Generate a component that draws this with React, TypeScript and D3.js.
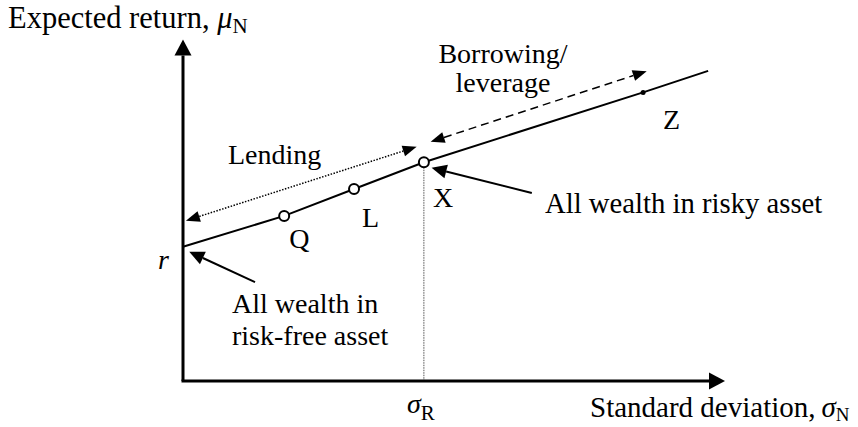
import React from "react";
import * as d3 from "d3";

// ---- data (chart units: sigma = standard deviation, mu = expected return) ----
const pointNames = ["Q", "L", "X", "Z"];
const pointSigma = [0.42, 0.71, 1.0, 1.91];
const pointMu = [1.23, 1.43, 1.63, 2.15];
const riskFreeRate = 1.0; // r
const lineEnd = [2.18, 2.31]; // sigma, mu where the CML line stops
const sigmaR = 1.0;
const lendingSpan = [[0.012, 1.194], [0.97, 1.745]];
const borrowingSpan = [[1.028, 1.782], [1.925, 2.308]];
const riskyNote = [[1.448, 1.4], [1.032, 1.588]];
const riskFreeNote = [[0.299, 0.737], [0.026, 0.963]];
const xDomain = [0, 2.25];
const yDomain = [0, 2.544];

const W = 858;
const H = 427;
const FONT = "Liberation Serif, Tinos, DejaVu Serif, serif";
const FS = 28;
const SUB = 20;

function arrowHead(x1: number, y1: number, x2: number, y2: number, len: number, wid: number) {
  const dx = x2 - x1;
  const dy = y2 - y1;
  const d = Math.hypot(dx, dy);
  const ux = dx / d;
  const uy = dy / d;
  const bx = x2 - ux * len;
  const by = y2 - uy * len;
  const px = -uy * (wid / 2);
  const py = ux * (wid / 2);
  return {
    base: [bx, by],
    points: `${x2},${y2} ${bx + px},${by + py} ${bx - px},${by - py}`,
  };
}

export default function App() {
  const x = d3.scaleLinear().domain(xDomain).range([183, 725]);
  const y = d3.scaleLinear().domain(yDomain).range([381, 39.5]);

  const linePts: [number, number][] = [
    [0, riskFreeRate],
    ...pointSigma.map((s, i) => [s, pointMu[i]] as [number, number]),
    [lineEnd[0], lineEnd[1]],
  ];
  const lineGen = d3
    .line<[number, number]>()
    .x((d) => x(d[0]))
    .y((d) => y(d[1]));

  const x0 = x(0);
  const y0 = y(0);
  const xTip = x(xDomain[1]);
  const yTip = y(yDomain[1]);
  const yHead = arrowHead(x0, y0, x0, yTip, 16, 17);
  const xHead = arrowHead(x0, y0, xTip, y0, 16, 17);

  const dblArrow = (span: number[][], dash: string, key: string) => {
    const ax = x(span[0][0]);
    const ay = y(span[0][1]);
    const bx = x(span[1][0]);
    const by = y(span[1][1]);
    const h1 = arrowHead(bx, by, ax, ay, 14, 11);
    const h2 = arrowHead(ax, ay, bx, by, 14, 11);
    return (
      <g key={key}>
        <line
          x1={h1.base[0]}
          y1={h1.base[1]}
          x2={h2.base[0]}
          y2={h2.base[1]}
          stroke="#000"
          strokeWidth={1.5}
          strokeDasharray={dash}
        />
        <polygon points={h1.points} fill="#000" />
        <polygon points={h2.points} fill="#000" />
      </g>
    );
  };

  const noteArrow = (span: number[][], key: string) => {
    const ax = x(span[0][0]);
    const ay = y(span[0][1]);
    const bx = x(span[1][0]);
    const by = y(span[1][1]);
    const h = arrowHead(ax, ay, bx, by, 15, 14);
    return (
      <g key={key}>
        <line x1={ax} y1={ay} x2={h.base[0]} y2={h.base[1]} stroke="#000" strokeWidth={2} />
        <polygon points={h.points} fill="#000" />
      </g>
    );
  };

  const labelOffsets: Record<string, [number, number]> = {
    Q: [5, 32],
    L: [8, 38],
    X: [9, 45],
    Z: [20, 37],
  };

  return (
    <svg width={W} height={H} style={{ display: "block", position: "absolute", left: 0, top: 0 }}>
      <rect width={W} height={H} fill="#fff" />
      <g style={{ fontFamily: FONT }} fontSize={FS} fill="#000">
        <line
          x1={x(sigmaR)}
          x2={x(sigmaR)}
          y1={y(pointMu[2]) + 5}
          y2={y0}
          stroke="#555"
          strokeWidth={1}
          strokeDasharray="1.5,1"
        />
        <line x1={x0} y1={y0} x2={yHead.base[0]} y2={yHead.base[1]} stroke="#000" strokeWidth={3} />
        <polygon points={yHead.points} fill="#000" />
        <line x1={x0 - 1.5} y1={y0} x2={xHead.base[0]} y2={xHead.base[1]} stroke="#000" strokeWidth={3} />
        <polygon points={xHead.points} fill="#000" />

        <path d={lineGen(linePts) || ""} fill="none" stroke="#000" strokeWidth={2} />

        {pointNames.map((n, i) =>
          n === "Z" ? (
            <circle key={n} cx={x(pointSigma[i])} cy={y(pointMu[i])} r={2.5} fill="#000" />
          ) : (
            <circle
              key={n}
              cx={x(pointSigma[i])}
              cy={y(pointMu[i])}
              r={5}
              fill="#fff"
              stroke="#000"
              strokeWidth={2}
            />
          )
        )}
        {pointNames.map((n, i) => (
          <text key={"t" + n} x={x(pointSigma[i]) + labelOffsets[n][0]} y={y(pointMu[i]) + labelOffsets[n][1]}>
            {n}
          </text>
        ))}

        {dblArrow(lendingSpan, "1.5,1.5", "lend")}
        {dblArrow(borrowingSpan, "8,5", "borrow")}
        {noteArrow(riskyNote, "risky")}
        {noteArrow(riskFreeNote, "rf")}

        <text x={8} y={28} fontSize={30.5}>
          Expected return, <tspan fontStyle="italic">μ</tspan>
          <tspan fontSize={21} dy={5}>N</tspan>
        </text>
        <text x={590} y={417} fontSize={29}>
          Standard deviation,<tspan fontStyle="italic" dx={6}>σ</tspan>
          <tspan fontSize={19} dy={4}>N</tspan>
        </text>
        <text x={x(sigmaR) - 17} y={413}>
          <tspan fontStyle="italic">σ</tspan>
          <tspan fontSize={SUB + 1} dy={7}>R</tspan>
        </text>
        <text x={x(0) - 25} y={y(riskFreeRate) + 22} fontStyle="italic">r</text>
        <text x={228} y={164}>Lending</text>
        <text x={503} y={63} textAnchor="middle">Borrowing/</text>
        <text x={503} y={92} textAnchor="middle">leverage</text>
        <text x={545} y={213} fontSize={28.7}>All wealth in risky asset</text>
        <text x={232} y={313}>All wealth in</text>
        <text x={232} y={345}>risk-free asset</text>
      </g>
    </svg>
  );
}
